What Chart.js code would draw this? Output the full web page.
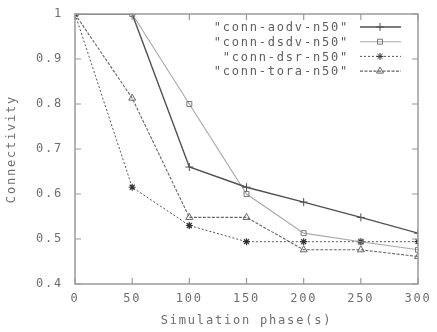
<!DOCTYPE html>
<html>
<head>
<meta charset="utf-8">
<script src="https://cdn.jsdelivr.net/npm/chart.js@4/dist/chart.umd.min.js"></script>
<style>
  html, body { margin: 0; padding: 0; background: #fff; }
  #wrap { width: 437px; height: 332px; }
</style>
</head>
<body>
<div id="wrap"><canvas id="myChart" width="437" height="332"></canvas></div>
<script>
let phases = [0, 50, 100, 150, 200, 250, 300]
let aodv = [1, 1, 0.66, 0.615, 0.582, 0.548, 0.513]
let dsdv = [1, 1, 0.8, 0.6, 0.513, 0.494, 0.476]
let dsr = [1, 0.615, 0.53, 0.494, 0.494, 0.494, 0.494]
let tora = [1, 0.813, 0.548, 0.548, 0.476, 0.476, 0.461]
let names = ['"conn-aodv-n50"', '"conn-dsdv-n50"', '"conn-dsr-n50"', '"conn-tora-n50"']
let xTicks = [0, 50, 100, 150, 200, 250, 300]
let yTicks = [0.4, 0.5, 0.6, 0.7, 0.8, 0.9, 1]

let mono = 'DejaVu Sans Mono'
let textColor = '#6e6e6e'
let frameColor = '#9a9a9a'
let spacing = '1.8px'

function toXY(vals) {
    return vals.map((v, i) => ({ x: phases[i], y: v }))
}

// gnuplot style frame, inward ticks on all four sides, legend at top right
let gnuplotBits = {
    id: 'gnuplotBits',
    beforeLayout(chart) { chart.ctx.letterSpacing = spacing },
    beforeDraw(chart) { chart.ctx.letterSpacing = spacing },
    afterDatasetsDraw(chart) {
        let ctx = chart.ctx
        let a = chart.chartArea
        let xs = chart.scales.x
        let ys = chart.scales.y
        ctx.save()
        ctx.strokeStyle = frameColor
        ctx.lineWidth = 1.5
        ctx.setLineDash([])
        ctx.strokeRect(a.left, a.top, a.right - a.left, a.bottom - a.top)
        ctx.lineWidth = 1.2
        ctx.beginPath()
        xTicks.forEach(t => {
            let px = xs.getPixelForValue(t)
            ctx.moveTo(px, a.bottom); ctx.lineTo(px, a.bottom - 6)
            ctx.moveTo(px, a.top); ctx.lineTo(px, a.top + 6)
        })
        yTicks.forEach(t => {
            let py = ys.getPixelForValue(t)
            ctx.moveTo(a.left, py); ctx.lineTo(a.left + 6, py)
            ctx.moveTo(a.right, py); ctx.lineTo(a.right - 6, py)
        })
        ctx.stroke()

        // legend
        ctx.font = '12px "' + mono + '"'
        ctx.letterSpacing = spacing
        ctx.textAlign = 'right'
        ctx.textBaseline = 'middle'
        chart.data.datasets.forEach((ds, i) => {
            let y = 27 + i * 14.7
            ctx.fillStyle = '#5e5e5e'
            ctx.fillText(names[i], 349, y + 1)
            ctx.strokeStyle = ds.borderColor
            ctx.lineWidth = ds.borderWidth
            ctx.setLineDash(ds.borderDash || [])
            ctx.beginPath()
            ctx.moveTo(360, y); ctx.lineTo(401, y)
            ctx.stroke()
            ctx.setLineDash([])
            if (Chart.helpers && Chart.helpers.drawPoint) {
                ctx.lineWidth = 1
                ctx.strokeStyle = ds.pointBorderColor
                ctx.fillStyle = ds.pointBackgroundColor
                Chart.helpers.drawPoint(ctx, {
                    pointStyle: ds.pointStyle,
                    radius: ds.pointRadius,
                    rotation: 0,
                    borderWidth: 1
                }, 380, y)
            }
        })
        ctx.restore()
    }
}

let chartakyu = document.getElementById('myChart').getContext('2d')

let myChart = new Chart(chartakyu, {
    type: 'line',
    data: {
        datasets: [
            {
                label: names[0],
                data: toXY(aodv),
                borderColor: '#505050',
                borderWidth: 1.4,
                pointStyle: 'cross',
                pointRadius: 4,
                pointBorderColor: '#505050',
                pointBackgroundColor: 'rgba(0,0,0,0)',
                pointBorderWidth: 1,
            },
            {
                label: names[1],
                data: toXY(dsdv),
                borderColor: '#a8a8a8',
                borderWidth: 1.1,
                pointStyle: 'rect',
                pointRadius: 3.5,
                pointBorderColor: '#777',
                pointBackgroundColor: 'rgba(0,0,0,0)',
                pointBorderWidth: 1,
            },
            {
                label: names[2],
                data: toXY(dsr),
                borderColor: '#555',
                borderWidth: 1,
                borderDash: [2, 2],
                pointStyle: 'star',
                pointRadius: 3.5,
                pointBorderColor: '#333',
                pointBackgroundColor: '#333',
                pointBorderWidth: 1.2,
            },
            {
                label: names[3],
                data: toXY(tora),
                borderColor: '#666',
                borderWidth: 1.1,
                borderDash: [3, 1.5],
                pointStyle: 'triangle',
                pointRadius: 4,
                pointBorderColor: '#666',
                pointBackgroundColor: 'rgba(0,0,0,0)',
                pointBorderWidth: 1,
            },
        ],
    },
    options: {
        responsive: false,
        animation: false,
        layout: { padding: { top: 14, right: 19, left: 0, bottom: 0 } },
        plugins: {
            legend: { display: false },
            tooltip: { enabled: false },
        },
        scales: {
            x: {
                type: 'linear',
                min: 0,
                max: 300,
                afterFit: s => { s.height = 48; s.paddingLeft = 0; s.paddingRight = 0 },
                afterBuildTicks: s => { s.ticks = xTicks.map(v => ({ value: v })) },
                grid: { display: false, drawTicks: false },
                border: { display: false },
                ticks: {
                    color: textColor,
                    font: { family: mono, size: 12 },
                    padding: 8,
                    maxRotation: 0,
                },
                title: {
                    display: true,
                    text: 'Simulation phase(s)',
                    color: textColor,
                    font: { family: mono, size: 12 },
                    padding: { top: 4, bottom: 4 },
                },
            },
            y: {
                min: 0.4,
                max: 1,
                afterFit: s => { s.width = 75; s.paddingTop = 0; s.paddingBottom = 0 },
                afterBuildTicks: s => { s.ticks = yTicks.map(v => ({ value: v })) },
                grid: { display: false, drawTicks: false },
                border: { display: false },
                ticks: {
                    color: textColor,
                    font: { family: mono, size: 12 },
                    padding: 12,
                    callback: v => v == 1 ? '1' : v.toFixed(1),
                },
                title: {
                    display: true,
                    text: 'Connectivity',
                    color: textColor,
                    font: { family: mono, size: 12 },
                    padding: { top: 5, bottom: 0 },
                },
            },
        },
    },
    plugins: [gnuplotBits],
})
</script>
</body>
</html>
